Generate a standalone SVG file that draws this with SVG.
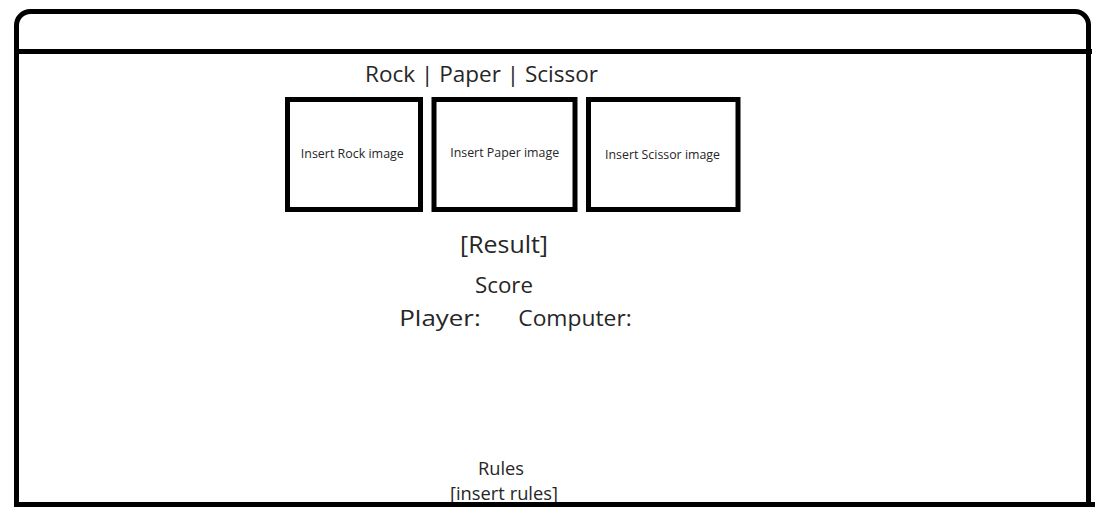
<svg xmlns="http://www.w3.org/2000/svg" width="1116" height="507" viewBox="0 0 1116 507">
<style>
.frame{fill:none;stroke:#000;stroke-width:5;stroke-linecap:butt}
.box{fill:#fff;stroke:#000;stroke-width:5}
.t{font-family:"Open Sans","Liberation Sans",sans-serif;fill:#262626;text-anchor:middle}
.big{font-size:23px}
.mid{font-size:21px}
.sm{font-size:12.5px}
</style>
<rect x="0" y="0" width="1116" height="507" fill="#fff"/>
<g id="window">
<path class="frame" d="M16.5,504 L16.5,26 A14,14 0 0 1 30.5,11.5 L1075,11.5 A13.5,13.5 0 0 1 1088.5,25 L1088.5,503"/>
<line class="frame" x1="14" y1="51.5" x2="1092" y2="51.5" stroke-width="4.5"/>
</g>
<g id="title">
<text class="t" x="481.5" y="82" textLength="233" lengthAdjust="spacingAndGlyphs" style="font-size:22px">Rock | Paper | Scissor</text>
</g>
<g id="rock">
<rect class="box" x="287.5" y="99.5" width="133" height="110"/>
<text class="t sm" x="352.3" y="157.5" textLength="103" lengthAdjust="spacingAndGlyphs">Insert Rock image</text>
</g>
<g id="paper">
<rect class="box" x="434" y="99.5" width="141" height="110"/>
<text class="t sm" x="504.7" y="157" textLength="109" lengthAdjust="spacingAndGlyphs">Insert Paper image</text>
</g>
<g id="scissor">
<rect class="box" x="588.5" y="99.5" width="149.5" height="110"/>
<text class="t sm" x="662.5" y="158.5" textLength="115" lengthAdjust="spacingAndGlyphs">Insert Scissor image</text>
</g>
<g id="result">
<text class="t big" x="504" y="253" textLength="88" lengthAdjust="spacingAndGlyphs">[Result]</text>
</g>
<g id="score">
<text class="t mid" x="504" y="292.5" textLength="58" lengthAdjust="spacingAndGlyphs">Score</text>
<text class="t mid" x="440" y="326" textLength="81.5" lengthAdjust="spacingAndGlyphs">Player:</text>
<text class="t mid" x="575" y="326" textLength="113.5" lengthAdjust="spacingAndGlyphs">Computer:</text>
</g>
<g id="rules">
<text class="t" x="501" y="475" textLength="46" lengthAdjust="spacingAndGlyphs" style="font-size:19px">Rules</text>
<text class="t" x="504" y="499.5" textLength="108" lengthAdjust="spacingAndGlyphs" style="font-size:19px">[insert rules]</text>
</g>
<line class="frame" x1="14" y1="504.5" x2="1095" y2="504.5"/>
</svg>
